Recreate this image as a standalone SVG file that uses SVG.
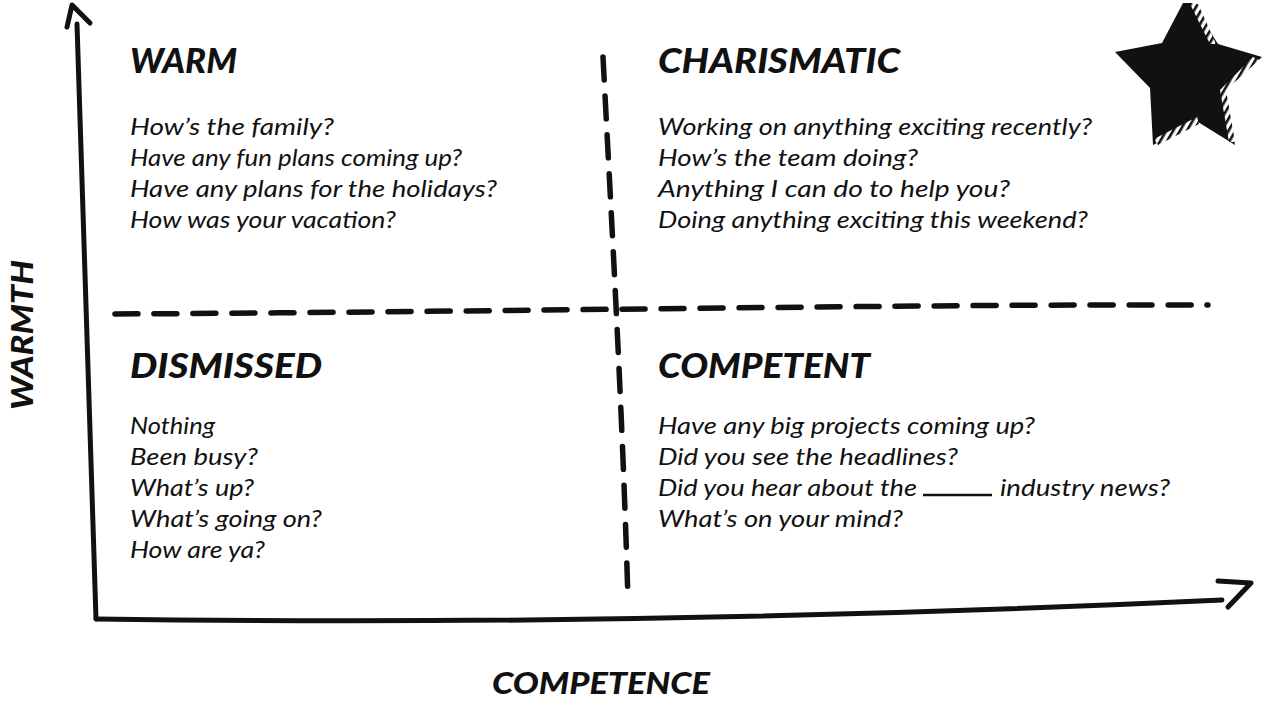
<svg xmlns="http://www.w3.org/2000/svg" width="1265" height="701" viewBox="0 0 1265 701">
  <style>
    .ink { fill: none; stroke: #111; stroke-linecap: round; stroke-linejoin: round; }
    .axis { stroke-width: 5; }
    .dash { stroke-width: 5.5; stroke-dasharray: 23 16; }
    .head { font-family: "Lato", "Open Sans", "Liberation Sans", sans-serif; font-weight: 900; font-style: italic; font-size: 34px; fill: #111; }
    .axis-label { font-size: 30px; }
    .body { font-family: "Lato", "Noto Sans", "Liberation Sans", sans-serif; font-style: italic; font-size: 23px; fill: #111; }
  </style>
  <defs>
    <pattern id="hatch" patternUnits="userSpaceOnUse" width="6" height="6" patternTransform="rotate(30)">
      <rect width="6" height="6" fill="#fff"/>
      <rect width="2.6" height="6" fill="#111"/>
    </pattern>
  </defs>
  <rect width="1265" height="701" fill="#fff"/>

  <!-- axes and quadrant dividers -->
  <g id="connectors">
    <path class="ink axis" d="M96 619 C 90 420, 82 220, 77 24"/>
    <path class="ink axis" d="M67 27 L 72 5 L 90 23"/>
    <path class="ink axis" d="M96 619 C 500 625, 900 615, 1222 600"/>
    <path class="ink axis" d="M1218 581 L 1251 583 L 1228 607"/>
    <path class="ink dash" d="M115 314 C 500 312, 900 304, 1208 305"/>
    <path class="ink dash" d="M603 57 C 612 230, 622 400, 628 600"/>
  </g>

  <g id="warm">
    <text class="head" x="130" y="73" textLength="107" lengthAdjust="spacingAndGlyphs">WARM</text>
    <text class="body" x="130" y="135" textLength="204" lengthAdjust="spacingAndGlyphs">How’s the family?</text>
    <text class="body" x="130" y="166" textLength="332" lengthAdjust="spacingAndGlyphs">Have any fun plans coming up?</text>
    <text class="body" x="130" y="197" textLength="367" lengthAdjust="spacingAndGlyphs">Have any plans for the holidays?</text>
    <text class="body" x="130" y="228" textLength="266" lengthAdjust="spacingAndGlyphs">How was your vacation?</text>
  </g>

  <g id="charismatic">
    <text class="head" x="658" y="73" textLength="242" lengthAdjust="spacingAndGlyphs">CHARISMATIC</text>
    <text class="body" x="658" y="135" textLength="434" lengthAdjust="spacingAndGlyphs">Working on anything exciting recently?</text>
    <text class="body" x="658" y="166" textLength="260" lengthAdjust="spacingAndGlyphs">How’s the team doing?</text>
    <text class="body" x="658" y="197" textLength="352" lengthAdjust="spacingAndGlyphs">Anything I can do to help you?</text>
    <text class="body" x="658" y="228" textLength="430" lengthAdjust="spacingAndGlyphs">Doing anything exciting this weekend?</text>
  </g>

  <g id="dismissed">
    <text class="head" x="130" y="378" textLength="192" lengthAdjust="spacingAndGlyphs">DISMISSED</text>
    <text class="body" x="130" y="434" textLength="85" lengthAdjust="spacingAndGlyphs">Nothing</text>
    <text class="body" x="130" y="465" textLength="128" lengthAdjust="spacingAndGlyphs">Been busy?</text>
    <text class="body" x="130" y="496" textLength="124" lengthAdjust="spacingAndGlyphs">What’s up?</text>
    <text class="body" x="130" y="527" textLength="192" lengthAdjust="spacingAndGlyphs">What’s going on?</text>
    <text class="body" x="130" y="558" textLength="135" lengthAdjust="spacingAndGlyphs">How are ya?</text>
  </g>

  <g id="competent">
    <text class="head" x="658" y="378" textLength="212" lengthAdjust="spacingAndGlyphs">COMPETENT</text>
    <text class="body" x="658" y="434" textLength="377" lengthAdjust="spacingAndGlyphs">Have any big projects coming up?</text>
    <text class="body" x="658" y="465" textLength="300" lengthAdjust="spacingAndGlyphs">Did you see the headlines?</text>
    <text class="body" x="658" y="496" textLength="259" lengthAdjust="spacingAndGlyphs">Did you hear about the</text>
    <line x1="923" y1="495" x2="992" y2="495" stroke="#111" stroke-width="2.5"/>
    <text class="body" x="1000" y="496" textLength="170" lengthAdjust="spacingAndGlyphs">industry news?</text>
    <text class="body" x="658" y="527" textLength="245" lengthAdjust="spacingAndGlyphs">What’s on your mind?</text>
  </g>

  <g id="axis-labels">
    <text class="head axis-label" x="492" y="694" textLength="218" lengthAdjust="spacingAndGlyphs">COMPETENCE</text>
    <text class="head axis-label" transform="translate(33 410) rotate(-90)" x="0" y="0" textLength="150" lengthAdjust="spacingAndGlyphs">WARMTH</text>
  </g>

  <!-- star with hatched bevel -->
  <g id="star">
    <path d="M1183 3 L1192 3 L1218 44 L1262 57 L1224 90 L1235 145 L1198 122 L1153 145 L1150 88 L1115 52 L1162 43 Z" fill="#111"/>
    <path d="M1190 4 L1198 4 L1216 44 L1210 44 Z" fill="url(#hatch)"/>
    <path d="M1253 57 L1259 60 L1226 90 L1220 90 Z" fill="url(#hatch)"/>
    <path d="M1220 90 L1226 90 L1235 142 L1229 142 Z" fill="url(#hatch)"/>
    <path d="M1197 117 L1199 124 L1158 145 L1154 139 Z" fill="url(#hatch)"/>
  </g>
</svg>
